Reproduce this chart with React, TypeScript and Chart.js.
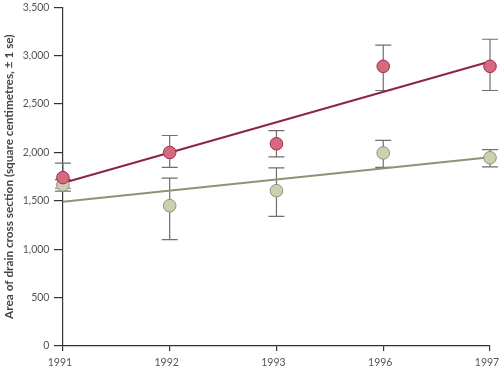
import React, { useEffect, useRef } from "react";
import { Chart, registerables } from "chart.js";

Chart.register(...registerables);

const years = ["1991", "1992", "1993", "1996", "1997"];
const redMean = [1740, 2000, 2090, 2890, 2890];
const redLow = [1600, 1845, 1955, 2640, 2640];
const redHigh = [1890, 2175, 2225, 3110, 3170];
const greenMean = [1665, 1450, 1605, 1995, 1945];
const greenLow = [1630, 1100, 1340, 1845, 1850];
const greenHigh = [1720, 1735, 1840, 2125, 2030];
const redTrend = [1685, null, null, null, 2940];
const greenTrend = [1490, null, null, null, 1950];
const yTicks = [0, 500, 1000, 1500, 2000, 2500, 3000, 3500];

const errorBars = {
  id: "errorBars",
  beforeDatasetsDraw(chart: any) {
    const { ctx, scales } = chart;
    const x = scales.x;
    const y = scales.y;
    ctx.save();
    ctx.strokeStyle = "#6f6f6f";
    ctx.lineWidth = 1.2;
    const draw = (lo: number[], hi: number[]) => {
      lo.forEach((l, i) => {
        const px = x.getPixelForValue(i);
        const py1 = y.getPixelForValue(l);
        const py2 = y.getPixelForValue(hi[i]);
        ctx.beginPath();
        ctx.moveTo(px, py1);
        ctx.lineTo(px, py2);
        ctx.moveTo(px - 8, py1);
        ctx.lineTo(px + 8, py1);
        ctx.moveTo(px - 8, py2);
        ctx.lineTo(px + 8, py2);
        ctx.stroke();
      });
    };
    draw(greenLow, greenHigh);
    draw(redLow, redHigh);
    ctx.restore();
  },
};

export default function App() {
  const ref = useRef<HTMLCanvasElement>(null);
  useEffect(() => {
    if (!ref.current) return;
    const chart = new Chart(ref.current, {
      type: "line",
      data: {
        labels: years,
        datasets: [
          {
            data: greenTrend,
            borderColor: "#8b9572",
            borderWidth: 2,
            pointRadius: 0,
            spanGaps: true,
            order: 3,
          },
          {
            data: redTrend,
            borderColor: "#8c2446",
            borderWidth: 2,
            pointRadius: 0,
            spanGaps: true,
            order: 3,
          },
          {
            data: greenMean,
            showLine: false,
            pointRadius: 6.3,
            pointBackgroundColor: "#cdcfb0",
            pointBorderColor: "#8f9273",
            pointBorderWidth: 1,
            order: 2,
          },
          {
            data: redMean,
            showLine: false,
            pointRadius: 6.3,
            pointBackgroundColor: "#d6687f",
            pointBorderColor: "#9e2f4b",
            pointBorderWidth: 1,
            order: 1,
          },
        ],
      },
      options: {
        animation: false,
        responsive: false,
        layout: { padding: { left: 2, right: 10, top: 5, bottom: 0 } },
        plugins: { legend: { display: false }, tooltip: { enabled: false } },
        scales: {
          x: {
            type: "category",
            offset: false,
            afterFit: (s: any) => {
              s.paddingLeft = 0;
              s.paddingRight = 0;
              s.height = 23;
            },
            border: { color: "#333", width: 1.2 },
            grid: { drawOnChartArea: false, tickLength: 5, color: "#333", lineWidth: 1.2 },
            ticks: {
              color: "#555",
              font: { family: "Lato", size: 10.5 },
              padding: 5,
              maxRotation: 0,
              labelOffset: -3,
            },
          },
          y: {
            min: 0,
            max: 3500,
            afterBuildTicks: (axis: any) => {
              axis.ticks = yTicks.map((v) => ({ value: v }));
            },
            afterFit: (s: any) => {
              s.paddingTop = 0;
              s.paddingBottom = 0;
            },
            border: { color: "#333", width: 1.2 },
            grid: { drawOnChartArea: false, tickLength: 9, color: "#333", lineWidth: 1.2 },
            ticks: {
              color: "#555",
              font: { family: "Lato", size: 10.5 },
              padding: 4.5,
              callback: (v: any) => Number(v).toLocaleString("en-US"),
            },
            title: {
              display: true,
              text: "Area of drain cross section (square centimetres, ± 1 se)",
              color: "#444",
              font: { family: "Lato", size: 11.8, weight: "bold" },
              padding: { top: 0, bottom: 2 },
            },
          },
        },
      },
      plugins: [errorBars],
    });
    return () => chart.destroy();
  }, []);
  return (
    <div style={{ position: "absolute", left: 0, top: 0, width: 500, height: 369 }}>
      <canvas ref={ref} width={500} height={369} />
    </div>
  );
}
